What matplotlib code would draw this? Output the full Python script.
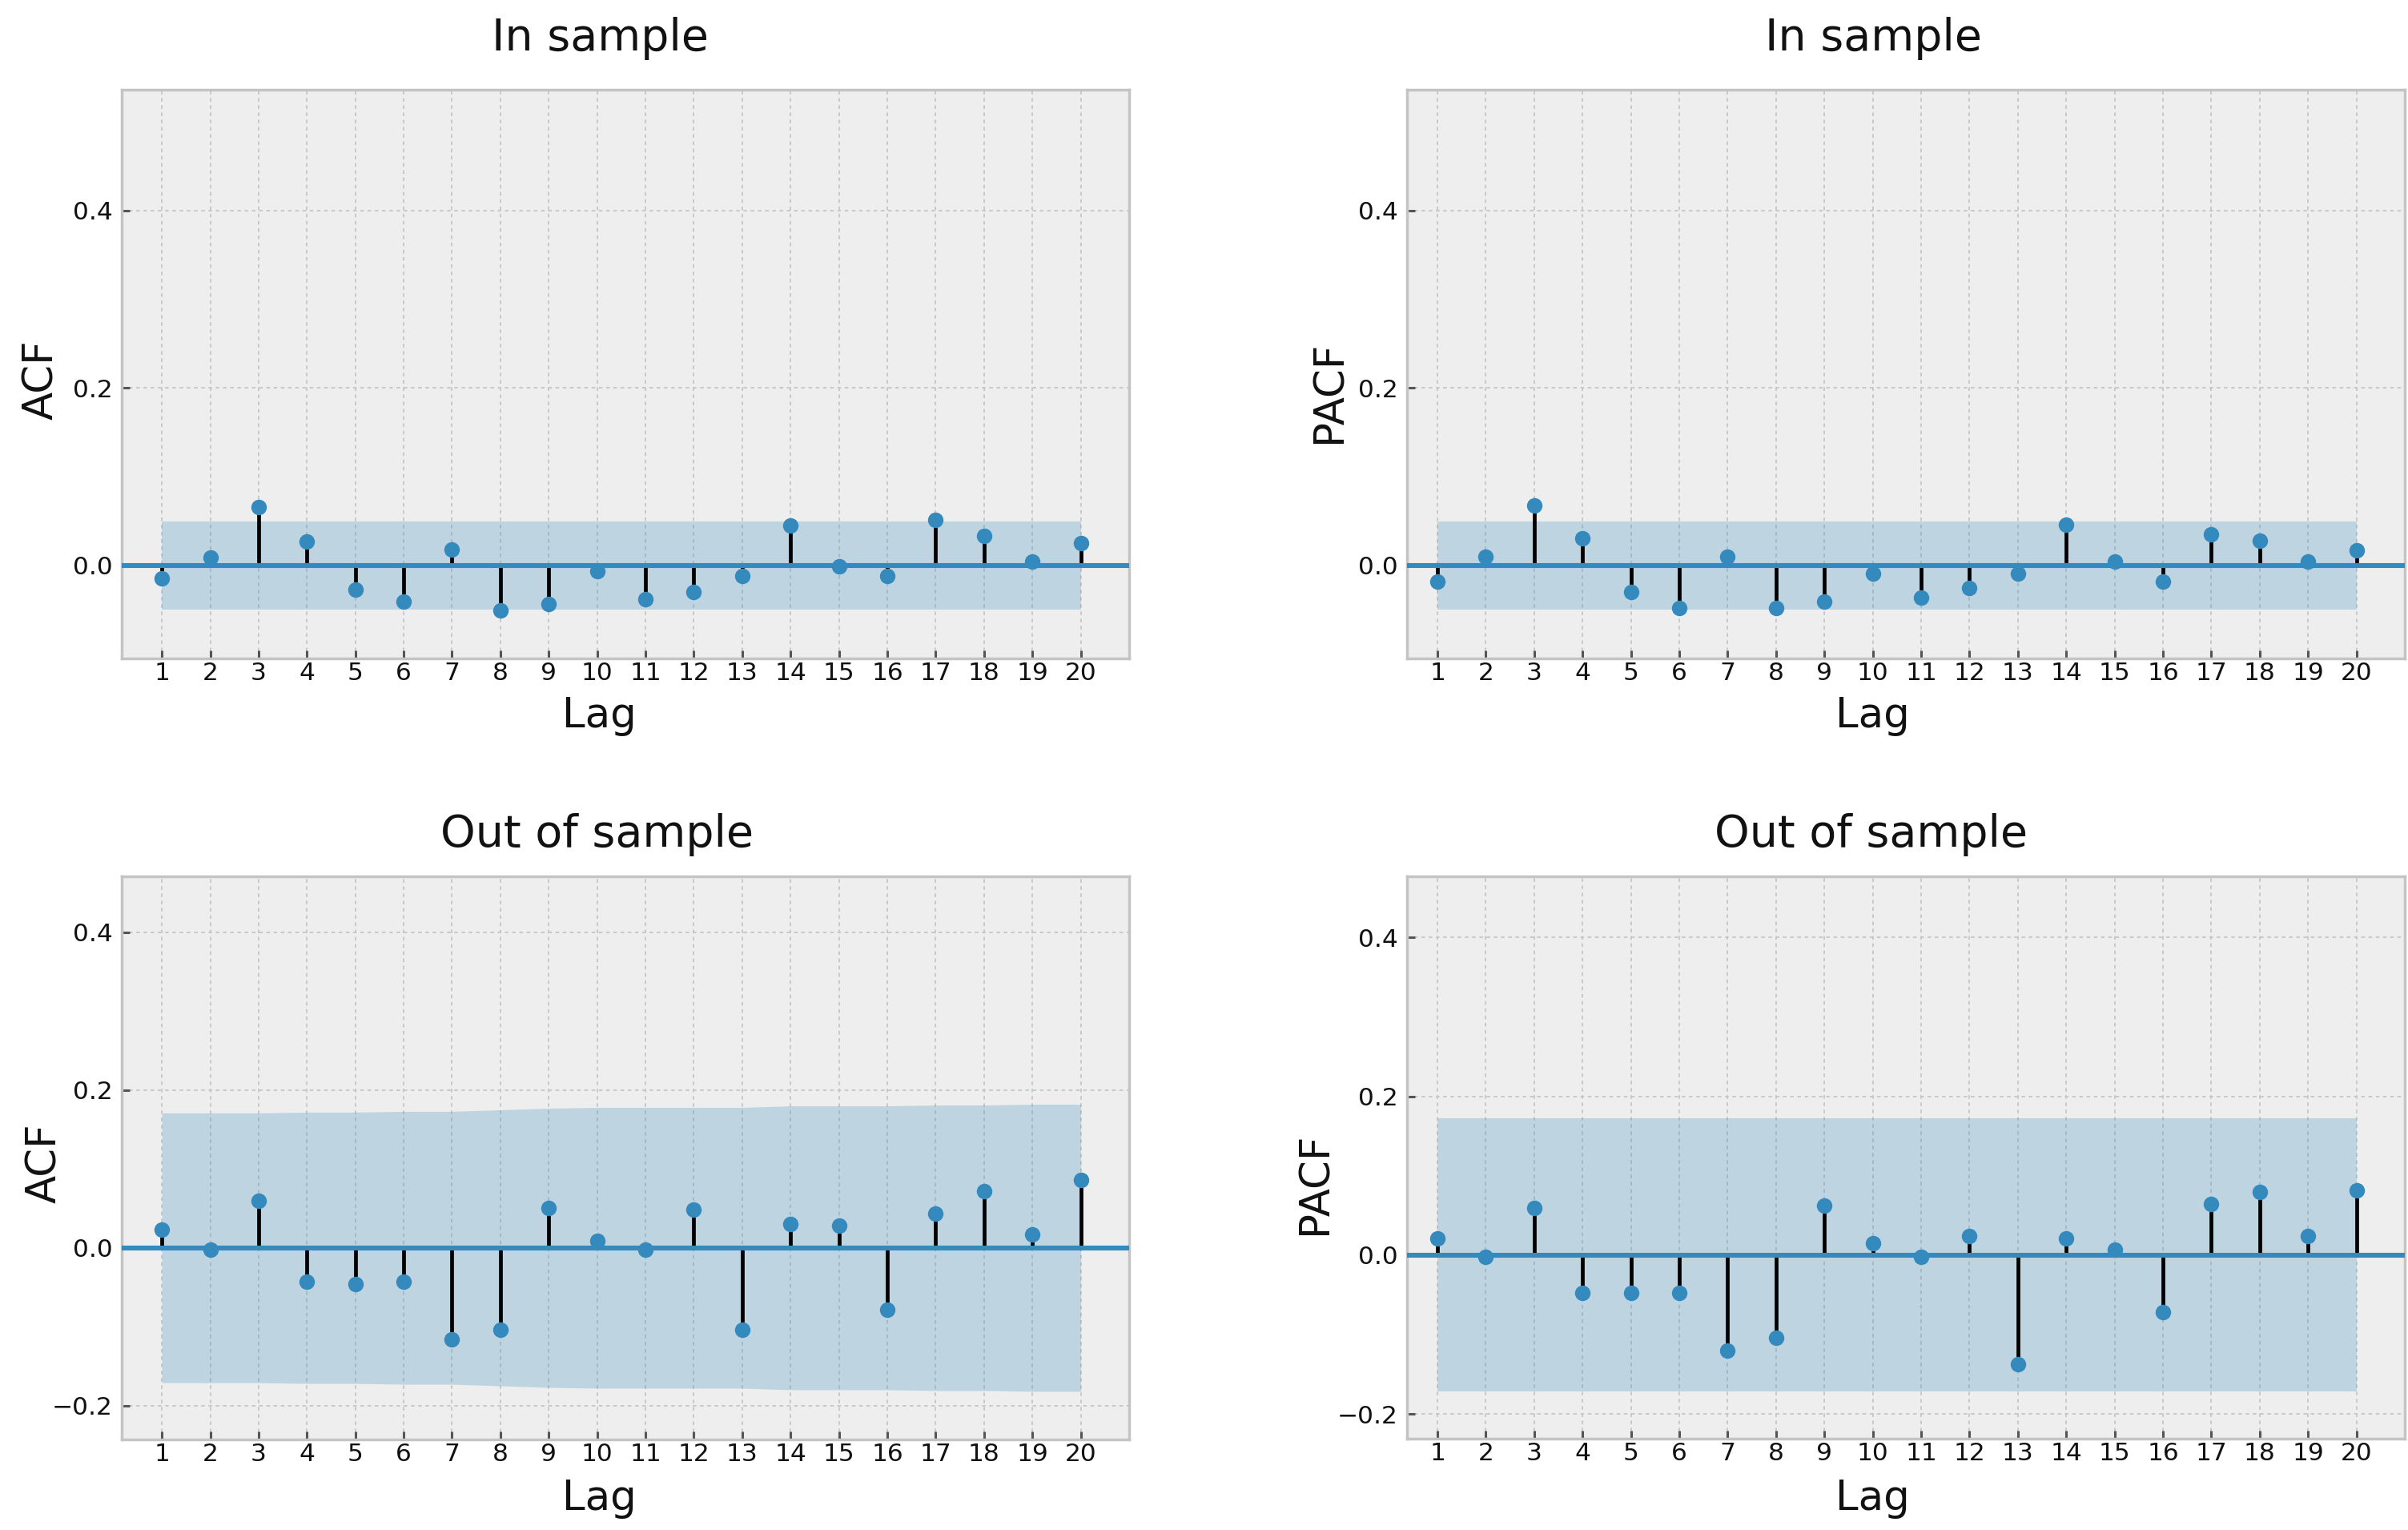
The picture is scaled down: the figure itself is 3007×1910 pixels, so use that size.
import matplotlib
matplotlib.use("Agg")
import matplotlib.pyplot as plt
import numpy as np

plt.rcParams['font.family'] = ['DejaVu Sans']

lags = list(range(1, 21))

in_acf = [-0.015, 0.009, 0.066, 0.027, -0.027, -0.041, 0.018, -0.051, -0.044, -0.007,
          -0.038, -0.030, -0.012, 0.045, -0.001, -0.012, 0.051, 0.033, 0.004, 0.025]
in_acf_band = [0.0495] * 20

in_pacf = [-0.018, 0.010, 0.067, 0.030, -0.030, -0.048, 0.010, -0.048, -0.041, -0.009,
           -0.036, -0.026, -0.009, 0.046, 0.004, -0.018, 0.035, 0.028, 0.004, 0.017]
in_pacf_band = [0.0495] * 20

out_acf = [0.023, -0.002, 0.060, -0.043, -0.046, -0.043, -0.116, -0.104, 0.051, 0.009,
           -0.002, 0.048, -0.104, 0.030, 0.028, -0.078, 0.043, 0.072, 0.017, 0.086]
out_acf_band = [0.171, 0.171, 0.171, 0.172, 0.172, 0.173, 0.173, 0.175, 0.177, 0.178,
                0.178, 0.178, 0.178, 0.180, 0.180, 0.180, 0.181, 0.181, 0.182, 0.182]

out_pacf = [0.021, -0.002, 0.059, -0.047, -0.047, -0.047, -0.120, -0.104, 0.062, 0.015,
            -0.002, 0.024, -0.137, 0.021, 0.007, -0.072, 0.064, 0.080, 0.024, 0.082]
out_pacf_band = [0.172] * 20

titles = ["In sample", "In sample", "Out of sample", "Out of sample"]
ylabels = ["ACF", "PACF", "ACF", "PACF"]
xlabel = "Lag"

W, H = 3007, 1910
fig = plt.figure(figsize=(W / 100, H / 100), dpi=100)

BLUE = '#348ABD'

# pixel layout: (left, right, top, bottom)
panels = [
    dict(box=(152, 1410, 112, 822), xlim=(0.17, 21.0), ylim=(-0.105, 0.536),
         yticks=[0.0, 0.2, 0.4], vals=in_acf, band=in_acf_band,
         title_xy=(750, 63), ylab_xy=(52, 474), xlab_xy=(748, 908)),
    dict(box=(1757, 3003, 112, 822), xlim=(0.37, 21.0), ylim=(-0.105, 0.536),
         yticks=[0.0, 0.2, 0.4], vals=in_pacf, band=in_pacf_band,
         title_xy=(2340, 63), ylab_xy=(1661, 489), xlab_xy=(2338, 908)),
    dict(box=(152, 1410, 1094, 1797), xlim=(0.17, 21.0), ylim=(-0.243, 0.471),
         yticks=[-0.2, 0.0, 0.2, 0.4], vals=out_acf, band=out_acf_band,
         title_xy=(746, 1057), ylab_xy=(56, 1452), xlab_xy=(748, 1885)),
    dict(box=(1757, 3003, 1094, 1796), xlim=(0.37, 21.0), ylim=(-0.231, 0.477),
         yticks=[-0.2, 0.0, 0.2, 0.4], vals=out_pacf, band=out_pacf_band,
         title_xy=(2337, 1057), ylab_xy=(1642, 1477), xlab_xy=(2338, 1885)),
]

for i, p in enumerate(panels):
    l, r, t, b = p['box']
    ax = fig.add_axes([l / W, 1 - b / H, (r - l) / W, (b - t) / H])
    ax.set_facecolor('#eeeeee')
    for s in ax.spines.values():
        s.set_color('#c4c4c4')
        s.set_linewidth(2.5)
    band = np.array(p['band'])
    ax.fill_between(lags, -band, band, color=BLUE, alpha=0.25, linewidth=0, zorder=1)
    ax.vlines(lags, 0, p['vals'], colors='black', linewidth=3.4, zorder=2)
    ax.axhline(0, color=BLUE, linewidth=4.4, zorder=3)
    ax.plot(lags, p['vals'], 'o', color=BLUE, markersize=14, markeredgewidth=0, zorder=4)
    ax.set_xlim(*p['xlim'])
    ax.set_ylim(*p['ylim'])
    ax.set_xticks(lags)
    ax.set_xticklabels([str(v) for v in lags])
    ax.set_yticks(p['yticks'])
    ax.set_yticklabels([f"{v:.1f}".replace('-', '\u2212') for v in p['yticks']])
    ax.grid(True, color='#c6c6c6', linestyle=(0, (2.5, 2.5)), linewidth=1.3, zorder=0)
    ax.set_axisbelow(True)
    ax.tick_params(axis='both', direction='in', length=7, width=2.2, color='#555555',
                   labelsize=22.5, labelcolor='#111111')
    ax.tick_params(axis='x', pad=3)
    ax.tick_params(axis='y', pad=8)
    ax.tick_params(top=False, right=False)

    tx, ty = p['title_xy']
    fig.text(tx / W, 1 - ty / H, titles[i], fontsize=40, ha='center', va='baseline',
             color='#111111')
    yx, yy = p['ylab_xy']
    fig.text(yx / W, 1 - yy / H, ylabels[i], fontsize=37, rotation=90,
             ha='center', va='center', color='#111111')
    lx, ly = p['xlab_xy']
    fig.text(lx / W, 1 - ly / H, xlabel, fontsize=37, ha='center', va='baseline',
             color='#111111')

fig.savefig('out.png', dpi=100, facecolor='white')
